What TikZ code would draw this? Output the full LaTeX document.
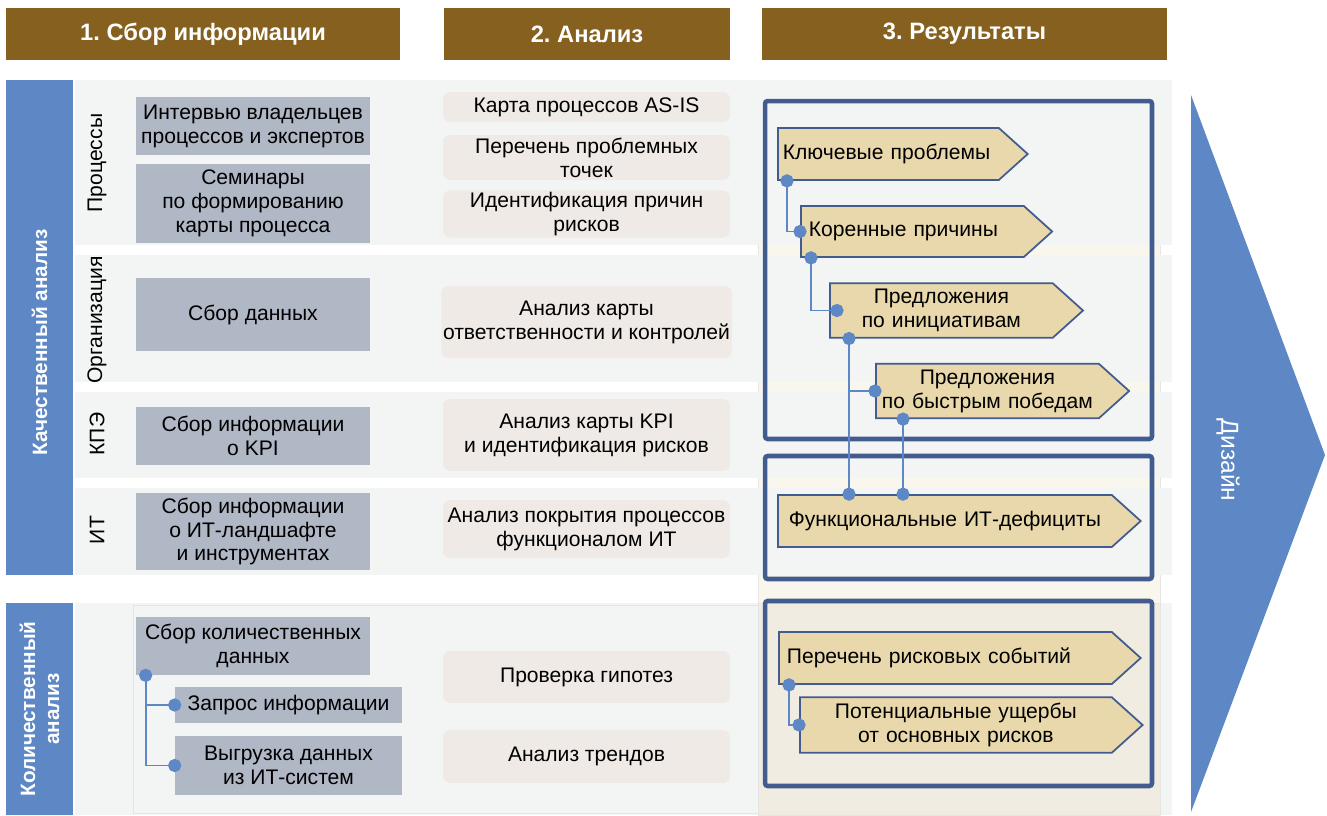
\documentclass[tikz,border=0pt]{standalone}
\usepackage{fontspec}
\setmainfont{Liberation Sans}
\usetikzlibrary{shapes.symbols,arrows.meta}

\definecolor{hdrbrown}{RGB}{133,96,30}
\definecolor{qblue}{RGB}{93,135,197}
\definecolor{rowgray}{RGB}{243,245,244}
\definecolor{slate}{RGB}{176,183,197}
\definecolor{warm}{RGB}{239,234,229}
\definecolor{deepblue}{RGB}{66,92,143}
\definecolor{tan}{RGB}{232,216,171}
\definecolor{cream}{RGB}{249,246,237}
\definecolor{beige}{RGB}{241,236,225}

\begin{document}
\frenchspacing
\begin{tikzpicture}[
  x=0.02cm, y=-0.02cm,
  hdr/.style={rectangle, fill=hdrbrown, text=white, minimum height=1.04cm,
    font=\fontsize{13.5}{15}\selectfont\bfseries},
  sidebar/.style={rectangle, fill=qblue, text=white, rotate=90, align=center,
    minimum height=1.34cm, font=\fontsize{11.8}{13.6}\selectfont\bfseries},
  rowlbl/.style={rotate=90, font=\fontsize{12}{13.6}\selectfont},
  srcbox/.style={rectangle, fill=slate, align=center, inner sep=1pt,
    font=\fontsize{12}{13.6}\selectfont},
  anabox/.style={rectangle, fill=warm, rounded corners=4pt, align=center,
    minimum width=5.74cm, inner sep=1pt, font=\fontsize{12}{13.6}\selectfont},
  frame/.style={rectangle, draw=deepblue, line width=2.6pt, rounded corners=1.5pt,
    minimum width=7.74cm},
  tag/.style={signal, signal to=east, signal pointer angle=84, anchor=west,
    draw=deepblue, fill=tan, line width=1pt, inner xsep=0.16cm,
    font=\fontsize{12}{13.6}\selectfont},
  link/.style={draw=qblue, line width=1.1pt,
    {Circle[length=7.5pt]}-{Circle[length=7.5pt]},
    shorten <=-3.75pt, shorten >=-3.75pt},
  branch/.style={draw=qblue, line width=1.1pt, -{Circle[length=7.5pt]},
    shorten >=-3.75pt},
]
\useasboundingbox (0,0) rectangle (1327,815);

% ============================================================
% BACKGROUND BANDS
% ============================================================
\fill[cream] (758,80) rectangle (1160,815);
\draw[black!10] (758,80) -- (758,815) (1160,80) -- (1160,815);
\fill[rowgray] (75,80) rectangle (1172,245);
\fill[rowgray] (75,255) rectangle (1172,382);
\fill[rowgray] (75,392) rectangle (1172,478);
\fill[rowgray] (75,488) rectangle (1172,575);
\fill[rowgray] (75,603) rectangle (1172,815);
\draw[black!10] (133,605) rectangle (758,813);
\filldraw[fill=beige, draw=black!10] (758,603) rectangle (1160,815);

% ============================================================
% HEADERS
% ============================================================
\node[hdr, minimum width=7.88cm] (h1) at (203,34) {1. Сбор информации};
\node[hdr, minimum width=5.72cm] (h2) at (587,34) {2. Анализ};
\node[hdr, minimum width=8.1cm] (h3) at (964.5,34) {3. Результаты};

% ============================================================
% SIDE BARS AND ROW LABELS
% ============================================================
\node[sidebar, minimum width=9.9cm] (qual) at (39.5,327.5) {Качественный анализ\hspace*{0.6cm}};
\node[sidebar, minimum width=4.24cm] (quant) at (39.5,709) {Количественный\\анализ};

\node[rowlbl] (lproc) at (97,163) {Процессы};
\node[rowlbl] (lorg) at (97,320) {Организация};
\node[rowlbl] (lkpe) at (97,434) {КПЭ};
\node[rowlbl] (lit) at (97,530) {ИТ};

% ============================================================
% COLUMN 1: information gathering
% ============================================================
\node[srcbox, minimum width=4.68cm, minimum height=1.16cm] (s1) at (253,126) {Интервью владельцев\\процессов и экспертов};
\node[srcbox, minimum width=4.68cm, minimum height=1.58cm] (s2) at (253,203.5) {Семинары\\по формированию\\карты процесса};
\node[srcbox, minimum width=4.68cm, minimum height=1.46cm] (s3) at (253,314.5) {Сбор данных};
\node[srcbox, minimum width=4.68cm, minimum height=1.16cm] (s4) at (253,436) {Сбор информации\\о KPI};
\node[srcbox, minimum width=4.68cm, minimum height=1.54cm] (s5) at (253,531.5) {Сбор информации\\о ИТ-ландшафте\\и инструментах};

\node[srcbox, minimum width=4.68cm, minimum height=1.16cm] (sk) at (253,646) {Сбор количественных\\данных};
\node[srcbox, minimum width=4.54cm, minimum height=0.72cm] (zi) at (288.5,705) {Запрос информации};
\node[srcbox, minimum width=4.54cm, minimum height=1.18cm] (vd) at (288.5,765.5) {Выгрузка данных\\из ИТ-систем};

\draw[link] ([xshift=0.2cm]sk.south west) |- (zi.west);
\draw[branch] ([xshift=0.2cm]sk.south west) |- (vd.west);

% ============================================================
% COLUMN 2: analysis
% ============================================================
\node[anabox, minimum height=0.6cm] (a1) at (586.5,107) {Карта процессов AS-IS};
\node[anabox, minimum height=0.9cm] (a2) at (586.5,157.5) {Перечень проблемных\\точек};
\node[anabox, minimum height=0.88cm] (a3) at (586.5,214) {Идентификация причин\\рисков};
\node[anabox, minimum height=1.44cm] (a4) at (586.5,322) {Анализ карты\\ответственности и контролей};
\node[anabox, minimum height=1.44cm] (a5) at (586.5,435) {Анализ карты KPI\\и идентификация рисков};
\node[anabox, minimum height=1.16cm] (a6) at (586.5,529) {Анализ покрытия процессов\\функционалом ИТ};
\node[anabox, minimum height=1.04cm] (a7) at (586.5,677) {Проверка гипотез};
\node[anabox, minimum height=1.06cm] (a8) at (586.5,756.5) {Анализ трендов};

% ============================================================
% COLUMN 3: results
% ============================================================
\node[frame, minimum height=6.76cm] (fa) at (958.5,270) {};
\node[frame, minimum height=2.46cm] (fb) at (958.5,517.5) {};
\node[frame, minimum height=3.7cm] (fc) at (958.5,693.5) {};

\node[tag, text width=4.22cm, inner xsep=0.1cm, align=left, minimum height=1.04cm] (kp) at (777,154) {Ключевые~проблемы};
\node[tag, text width=4.14cm, align=left, minimum height=1.02cm] (kr) at (800,231.5) {Коренные причины};
\node[tag, text width=4.14cm, align=center, minimum height=1.06cm] (pi) at (829,310.5) {Предложения\\по инициативам};
\node[tag, text width=4.3cm, inner xsep=0.08cm, align=center, minimum height=1.04cm] (pb) at (875,391) {Предложения\\по быстрым победам};
\node[tag, text width=6.36cm, align=center, minimum height=1.04cm] (fd) at (777,521) {Функциональные ИТ-дефициты};
\node[tag, text width=6.34cm, align=left, minimum height=1.04cm] (pr) at (778,658) {Перечень рисковых событий};
\node[tag, text width=5.92cm, align=center, minimum height=1.08cm] (pu) at (799,725) {Потенциальные ущербы\\от основных рисков};

\draw[link] ([xshift=0.2cm]kp.south west) |- (kr.west);
\draw[link] ([xshift=0.22cm]kr.south west) |- ([xshift=0.16cm]pi.west);
\draw[link] ([xshift=0.4cm]pi.south west) -- ([xshift=1.44cm]fd.north west);
\draw[branch] ([xshift=0.4cm]pi.south west) |- (pb.west);
\draw[link] ([xshift=0.56cm]pb.south west) -- ([xshift=2.52cm]fd.north west);
\draw[link] ([xshift=0.22cm]pr.south west) |- (pu.west);

% ============================================================
% DESIGN ARROW
% ============================================================
\fill[qblue] (1191,95) -- (1325,455) -- (1191,812) -- cycle;
\node[rotate=-90, text=white, font=\fontsize{14}{16}\selectfont] (dz) at (1228,460) {Дизайн};

\end{tikzpicture}
\end{document}
